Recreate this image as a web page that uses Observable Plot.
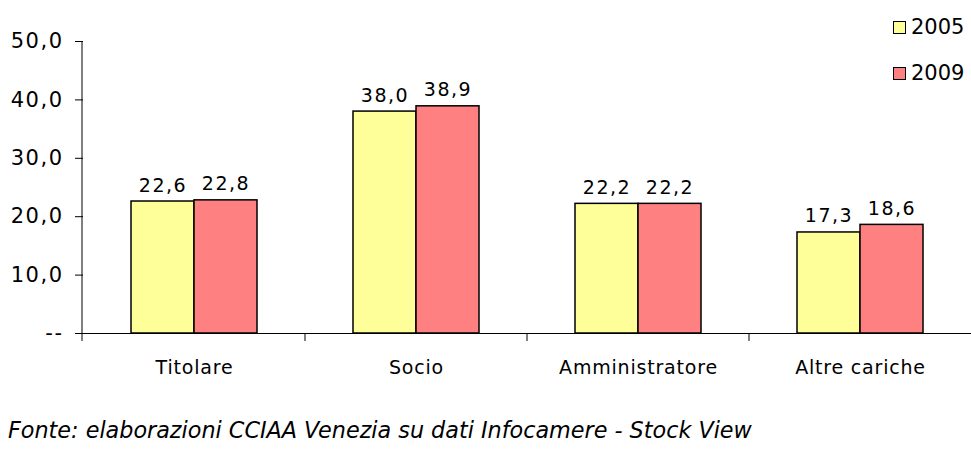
<!DOCTYPE html>
<html>
<head>
<meta charset="utf-8">
<script src="https://cdn.jsdelivr.net/npm/d3@7"></script>
<script src="https://cdn.jsdelivr.net/npm/@observablehq/plot@0.6"></script>
<style>
  body { margin: 0; background: #fff; font-family: "DejaVu Sans", sans-serif; }
  #wrap { position: relative; width: 971px; height: 454px; }
  #legend { position: absolute; left: 893px; top: 14px; font-size: 21px; color: #000; }
  .li { display: flex; align-items: center; height: 26px; margin-bottom: 20px; }
  .sw { width: 11px; height: 11px; border: 1.5px solid #000; margin-right: 5px; }
  #caption { position: absolute; left: 8px; top: 417px; font-size: 22.3px; font-style: italic; color: #000; white-space: nowrap; }
</style>
</head>
<body>
<div id="wrap">
  <div id="chart"></div>
  <div id="legend"></div>
  <div id="caption">Fonte: elaborazioni CCIAA Venezia su dati Infocamere - Stock View</div>
</div>
<script>
const categories = ["Titolare", "Socio", "Amministratore", "Altre cariche"];
const years = ["2005", "2009"];
const values2005 = [22.6, 38.0, 22.2, 17.3];
const values2009 = [22.8, 38.9, 22.2, 18.6];
const yTicks = [0, 10, 20, 30, 40, 50];
const colors = ["#FFFF99", "#FF8080"];

const data = [];
categories.forEach((c, i) => {
  data.push({cat: c, year: years[0], value: values2005[i]});
  data.push({cat: c, year: years[1], value: values2009[i]});
});

const fmt = d => d.toFixed(1).replace(".", ",");

const chart = Plot.plot({
  width: 971,
  height: 400,
  marginTop: 41,
  marginBottom: 67,
  marginLeft: 82,
  marginRight: 0,
  style: {fontFamily: "DejaVu Sans, sans-serif", fontSize: "20px", color: "#000", background: "#fff"},
  facet: {data, x: "cat"},
  fx: {domain: categories, padding: 0, label: null, tickSize: 0, tickPadding: 27},
  x: {domain: years, paddingInner: 0, paddingOuter: 0.75, axis: null},
  y: {domain: [0, 50], ticks: yTicks, tickFormat: d => d === 0 ? "--" : fmt(d), tickSize: 8, tickPadding: 12, label: null},
  color: {domain: years, range: colors},
  marks: [
    Plot.barY(data, {x: "year", y: "value", fill: "year", stroke: "#000", strokeWidth: 1.5}),
    Plot.text(data, {x: "year", y: "value", text: d => fmt(d.value), lineAnchor: "bottom", dy: -10, fontSize: 19, fill: "#000"}),
    Plot.ruleY([0], {stroke: "#000", strokeWidth: 1})
  ]
});

// y axis line and category boundary ticks, from the plot's own scales
const svg = d3.select(chart.tagName.toLowerCase() === "svg" ? chart : chart.querySelector("svg"));
const fx = chart.scale("fx");
const y = chart.scale("y");
const y0 = y.apply(0);
svg.append("line")
  .attr("x1", 82).attr("x2", 82)
  .attr("y1", y.apply(50)).attr("y2", y0 + 8)
  .attr("stroke", "#000").attr("stroke-width", 1);
categories.slice(1).forEach(c => {
  const xx = fx.apply(c);
  svg.append("line")
    .attr("x1", xx).attr("x2", xx)
    .attr("y1", y0).attr("y2", y0 + 8)
    .attr("stroke", "#000").attr("stroke-width", 1);
});
svg.selectAll("g[aria-label^='y-axis'] text").style("font-size", "21px").style("letter-spacing", "1.5px");
svg.selectAll("g[aria-label^='fx-axis'] text").style("font-size", "19px").style("letter-spacing", "0.8px");
svg.selectAll("g[aria-label^='text'] text").style("letter-spacing", "1.5px");

document.getElementById("chart").appendChild(chart);

const legend = document.getElementById("legend");
years.forEach((yr, i) => {
  const row = document.createElement("div");
  row.className = "li";
  const sw = document.createElement("div");
  sw.className = "sw";
  sw.style.background = colors[i];
  const t = document.createElement("span");
  t.textContent = yr;
  row.appendChild(sw);
  row.appendChild(t);
  legend.appendChild(row);
});
</script>
</body>
</html>
